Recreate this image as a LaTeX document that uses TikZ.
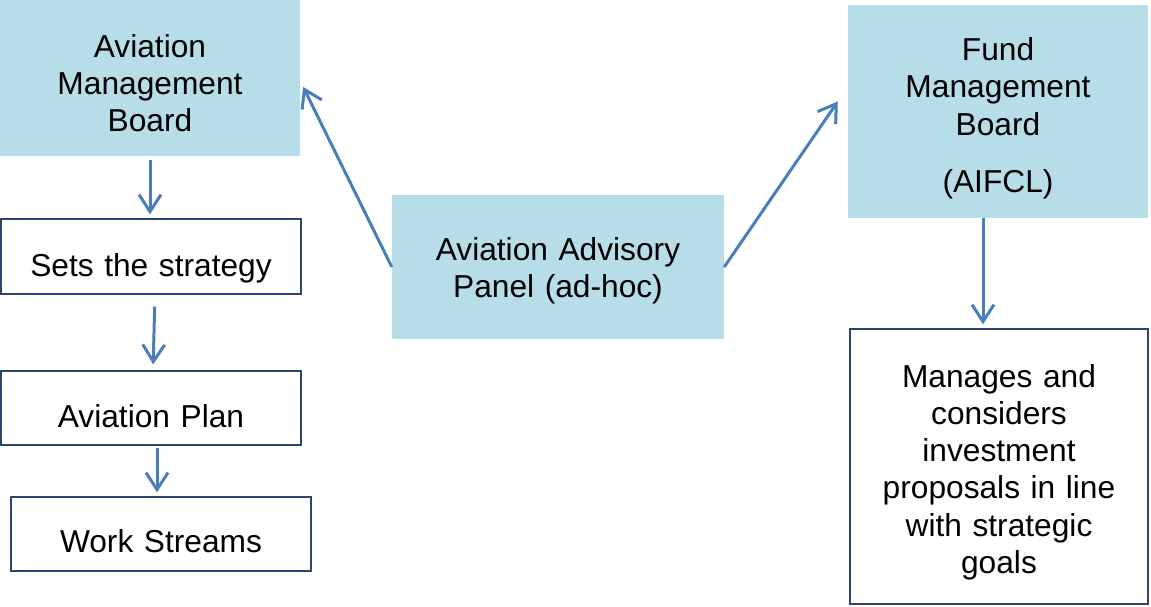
\documentclass[tikz,border=0pt]{standalone}
\usepackage{fontspec}
\setmainfont{Liberation Sans}
\usetikzlibrary{arrows.meta}
\definecolor{boardblue}{HTML}{B7DDE8}
\definecolor{linkblue}{HTML}{4A7EBB}
\definecolor{edgenavy}{HTML}{2C4570}
\tikzset{
  board/.style = {shape=rectangle, fill=boardblue, align=center, text width=280pt,
                  inner sep=0pt, font=\fontsize{31.7}{37.2}\selectfont},
  task/.style  = {shape=rectangle, draw=edgenavy, line width=1.3pt, fill=white,
                  align=center, text width=280pt,
                  inner sep=0pt, font=\fontsize{31.7}{37.2}\selectfont},
  oneline/.style = {text height=39pt, text depth=0pt},
  link/.style  = {draw=linkblue, line width=3pt,
                  -{Straight Barb[length=17pt,width=22pt,line width=3pt]}}
}
\begin{document}
\begin{tikzpicture}[x=1pt, y=1pt]
  \useasboundingbox (0,0) rectangle (1151,-606);

  % left column
  \node[board, minimum width=300, minimum height=156,
        text height=0pt, text depth=42pt] (amb) at (150,-78)
       {Aviation\\Management\\Board};
  \node[task, oneline, minimum width=300, minimum height=75] (sets) at (151,-256.5)
       {Sets the strategy};
  \node[task, oneline, minimum width=300, minimum height=74] (plan) at (151,-408)
       {Aviation Plan};
  \node[task, minimum width=300, minimum height=74,
        text height=36.6pt, text depth=0pt] (ws) at (161,-534)
       {Work Streams};

  % middle
  \node[board, minimum width=332, minimum height=144,
        text height=0pt, text depth=14pt] (panel) at (558,-267)
       {Aviation Advisory\\Panel (ad-hoc)};

  % right column
  \node[board, minimum width=300, minimum height=213,
        text height=0pt, text depth=101.6pt] (fmb) at (998,-111.5)
       {Fund\\Management\\Board\\[20pt](AIFCL)};
  \node[task, minimum width=298, minimum height=275,
        text height=0pt, text depth=158.4pt] (mng) at (999,-466.5)
       {Manages and\\considers\\investment\\proposals in line\\with strategic\\goals};

  \draw[link, shorten <=4pt, shorten >=4pt] (amb.south) -- (amb.south |- sets.north);
  \draw[link, shorten <=12pt, shorten >=6pt] ([xshift=4pt]sets.south) -- ([xshift=2pt]plan.north);
  \draw[link, shorten <=2pt, shorten >=4pt] ([xshift=6pt]plan.south) -- ([xshift=6pt]plan.south |- ws.north);
  \draw[link, shorten >=4pt] ([xshift=-15pt]fmb.south) -- ([xshift=-15pt]fmb.south |- mng.north);

  \draw[link] (panel.west) -- ([shift={(3pt,-9pt)}]amb.east);
  \draw[link] (panel.east) -- ([shift={(-10pt,10pt)}]fmb.west);
\end{tikzpicture}
\end{document}
